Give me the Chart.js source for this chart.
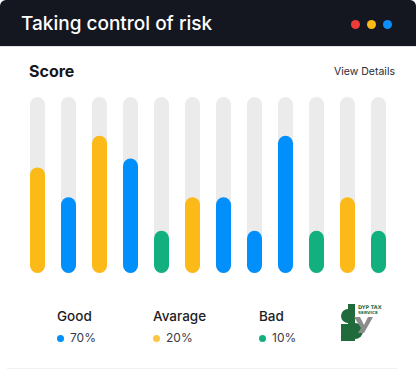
<!DOCTYPE html>
<html>
<head>
<meta charset="utf-8">
<script src="https://cdn.jsdelivr.net/npm/chart.js@4"></script>
<style>
  body { margin: 0; width: 416px; height: 370px; background: #fff; font-family: Inter, "Noto Sans", sans-serif; overflow: hidden; position: relative; }
  .header { position: absolute; left: 0; top: 0; width: 416px; height: 46px; background: #141720; border-radius: 6px 6px 0 0; border-bottom: 1px solid #e3e3e6; }
  .title { position: absolute; left: 21px; top: 12px; color: #fff; font-size: 19px; font-weight: 500; line-height: 23px; }
  .dot { position: absolute; top: 20px; width: 9px; height: 9px; border-radius: 50%; }
  .score { position: absolute; left: 29px; top: 62px; font-size: 16px; font-weight: 700; color: #141720; line-height: 19px; }
  .details { position: absolute; right: 21px; top: 65px; font-size: 10.5px; color: #2a2a33; line-height: 14px; }
  #wrap { position: absolute; left: 22px; top: 97px; width: 372px; height: 176px; }
  .leg { position: absolute; top: 308px; }
  .leg .name { font-size: 13.5px; font-weight: 500; color: #1d1d26; line-height: 16px; }
  .leg .pct { margin-top: 6px; font-size: 12px; color: #3a3a44; line-height: 15px; }
  .leg .pct span { display: inline-block; width: 7px; height: 7px; border-radius: 50%; margin-right: 6px; vertical-align: 0px; }
  .logo { position: absolute; left: 340px; top: 304px; }
  .bottom { position: absolute; left: 7px; top: 368px; width: 390px; height: 1px; background: #f0f0f2; }
</style>
</head>
<body>
<div class="header">
  <div class="title">Taking control of risk</div>
  <div class="dot" style="left:351px;background:#f03b3b"></div>
  <div class="dot" style="left:367px;background:#fbba18"></div>
  <div class="dot" style="left:383px;background:#0a8ffb"></div>
</div>
<div class="score">Score</div>
<div class="details">View Details</div>
<div id="wrap"><canvas id="scoreChart"></canvas></div>
<div id="legend"></div>
<svg class="logo" width="46" height="38" viewBox="0 0 46 38">
  <path d="M8 5 A7 7 0 0 0 8 19 Z" fill="#1f6b3b"/>
  <rect x="8" y="0" width="7" height="37" fill="#1f6b3b"/>
  <rect x="1" y="20" width="7" height="17" fill="#1f6b3b"/>
  <path d="M15 19 A8 8 0 0 1 15 35 Z" fill="#1f6b3b"/>
  <path d="M14 13 L20 13 L24 21 L28 13 L33 13 L24 29 L18 29 L21 24 Z" fill="#8c8c8c"/>
  <text x="18" y="5" font-size="5" font-weight="700" fill="#1f6b3b" font-family="DejaVu Sans">DYP TAX</text>
  <text x="18" y="10" font-size="4.2" font-weight="700" fill="#1f6b3b" font-family="DejaVu Sans">SERVICE</text>
</svg>
<div class="bottom"></div>

<script>
const labels = ["1", "2", "3", "4", "5", "6", "7", "8", "9", "10", "11", "12"];
const scores = [60, 43, 78, 65, 24, 43, 43, 24, 78, 24, 43, 24];
const levels = ["avg", "good", "avg", "good", "bad", "avg", "good", "good", "good", "bad", "avg", "bad"];
const track = [100, 100, 100, 100, 100, 100, 100, 100, 100, 100, 100, 100];

const legendNames = ["Good", "Avarage", "Bad"];
const legendShares = [70, 20, 10];
const legendLeft = [57, 153, 259];

const colors = { good: "#008ffb", avg: "#fbba18", bad: "#13b07f" };
const legendColors = [colors.good, "#fbc642", colors.bad];

const legend = document.getElementById("legend");
legendNames.forEach((name, i) => {
  const div = document.createElement("div");
  div.className = "leg";
  div.style.left = legendLeft[i] + "px";
  div.innerHTML = `<div class="name">${name}</div><div class="pct"><span style="background:${legendColors[i]}"></span>${legendShares[i]}%</div>`;
  legend.appendChild(div);
});

new Chart(document.getElementById("scoreChart"), {
  type: "bar",
  data: {
    labels: labels,
    datasets: [
      {
        data: scores,
        backgroundColor: levels.map(l => colors[l]),
        borderRadius: 8,
        borderSkipped: false,
        grouped: false,
        categoryPercentage: 1,
        barPercentage: 15 / 31
      },
      {
        data: track,
        backgroundColor: "#ebebeb",
        borderRadius: 8,
        borderSkipped: false,
        grouped: false,
        categoryPercentage: 1,
        barPercentage: 15 / 31
      }
    ]
  },
  options: {
    responsive: true,
    maintainAspectRatio: false,
    animation: false,
    layout: { padding: 0 },
    plugins: { legend: { display: false }, tooltip: { enabled: false } },
    scales: {
      x: { display: false },
      y: { display: false, min: 0, max: 100 }
    }
  }
});
</script>
</body>
</html>
